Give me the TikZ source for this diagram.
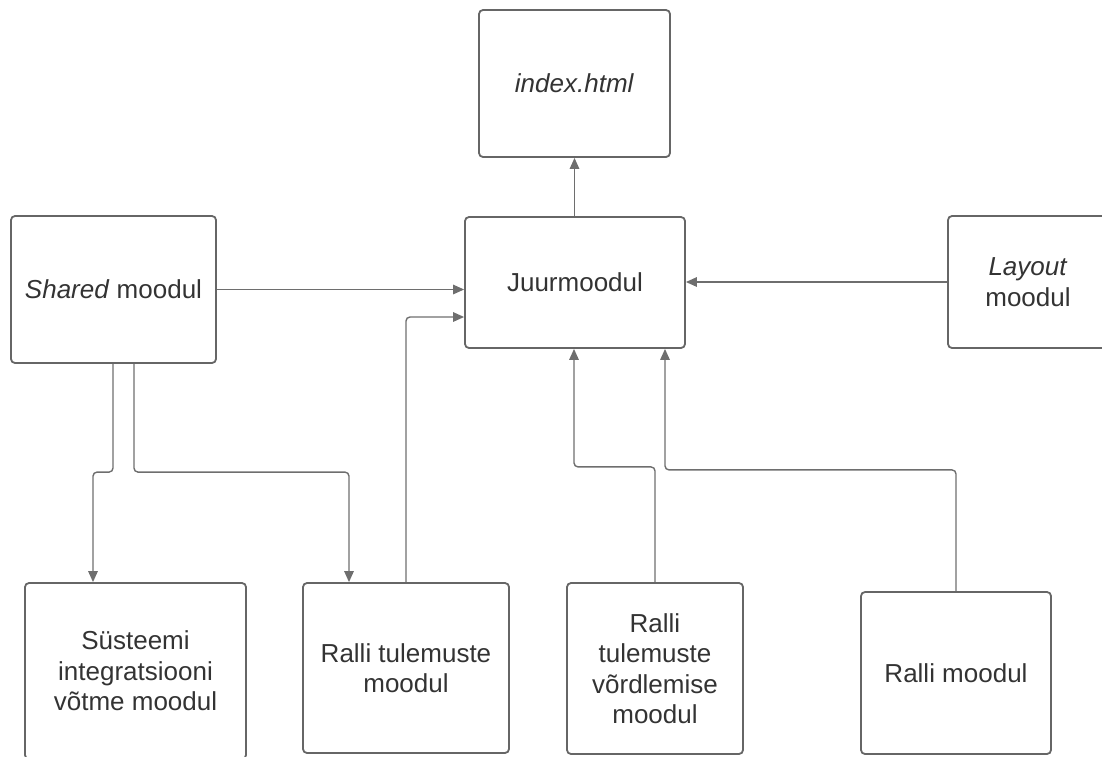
\documentclass[tikz,border=0pt]{standalone}
\usepackage{fontspec}
\setmainfont{Liberation Sans}
\usetikzlibrary{shapes, arrows.meta}
\definecolor{boxgray}{HTML}{666666}
\definecolor{linegray}{HTML}{6E6E6E}
\definecolor{textgray}{HTML}{333333}
\tikzstyle{block} = [rectangle, draw=boxgray, line width=1.8pt, rounded corners=4pt,
text=textgray, align=center, inner sep=0pt, font=\fontsize{26}{30.5}\selectfont]
\tikzstyle{line} = [draw=linegray, line width=1.4pt, rounded corners=4pt, -{Triangle[length=11pt,width=9.5pt]}]

\begin{document}
\begin{tikzpicture}[x=1pt, y=-1pt]
	\clip (0,0) rectangle (1102,756);
	
	% Place nodes
	\node [block, minimum width=191pt, minimum height=147pt] (Index)   at (574.5,83.5) {\textit{index.html}};
	\node [block, minimum width=220pt, minimum height=131pt] (Juur)    at (575,282.5)  {Juurmoodul};
	\node [block, minimum width=205pt, minimum height=147pt] (Shared)  at (113.5,289.5) {\textit{Shared} moodul};
	\node [block, minimum width=160pt, minimum height=132pt] (Layout)  at (1028,282)   {\textit{Layout}\\moodul};
	\node [block, minimum width=221pt, minimum height=176pt] (Systeem) at (135.5,671)  {Süsteemi\\integratsiooni\\võtme moodul};
	\node [block, minimum width=206pt, minimum height=170pt] (RT)      at (406,668)    {Ralli tulemuste\\moodul};
	\node [block, minimum width=176pt, minimum height=171pt] (RTV)     at (655,668.5)  {Ralli\\tulemuste\\võrdlemise\\moodul};
	\node [block, minimum width=190pt, minimum height=162pt] (Ralli)   at (956,673)    {Ralli moodul};
	
	%Draw edges
	\path [line] ([xshift=-0.5pt]Juur.north) -- ([xshift=-0.5pt]Juur.north |- Index.south);
	\path [line] (Shared.east) -- (Shared.east -| Juur.west);
	\path [line] (Layout.west) -- (Layout.west -| Juur.east);
	\path [line] (RT.north) |- ([yshift=-34.5pt]Juur.west);
	\path [line] ([xshift=-0.5pt]Shared.south) |- ([xshift=-42.5pt,yshift=110pt]Systeem.north) -- ([xshift=-42.5pt]Systeem.north);
	\path [line] ([xshift=20.5pt]Shared.south) |- ([xshift=-57pt,yshift=110pt]RT.north) -- ([xshift=-57pt]RT.north);
	\path [line] (RTV.north) |- ([xshift=-1pt,yshift=-118pt]Juur.south) -- ([xshift=-1pt]Juur.south);
	\path [line] (Ralli.north) |- ([xshift=90pt,yshift=-121pt]Juur.south) -- ([xshift=90pt]Juur.south);
	
\end{tikzpicture}
\end{document}
